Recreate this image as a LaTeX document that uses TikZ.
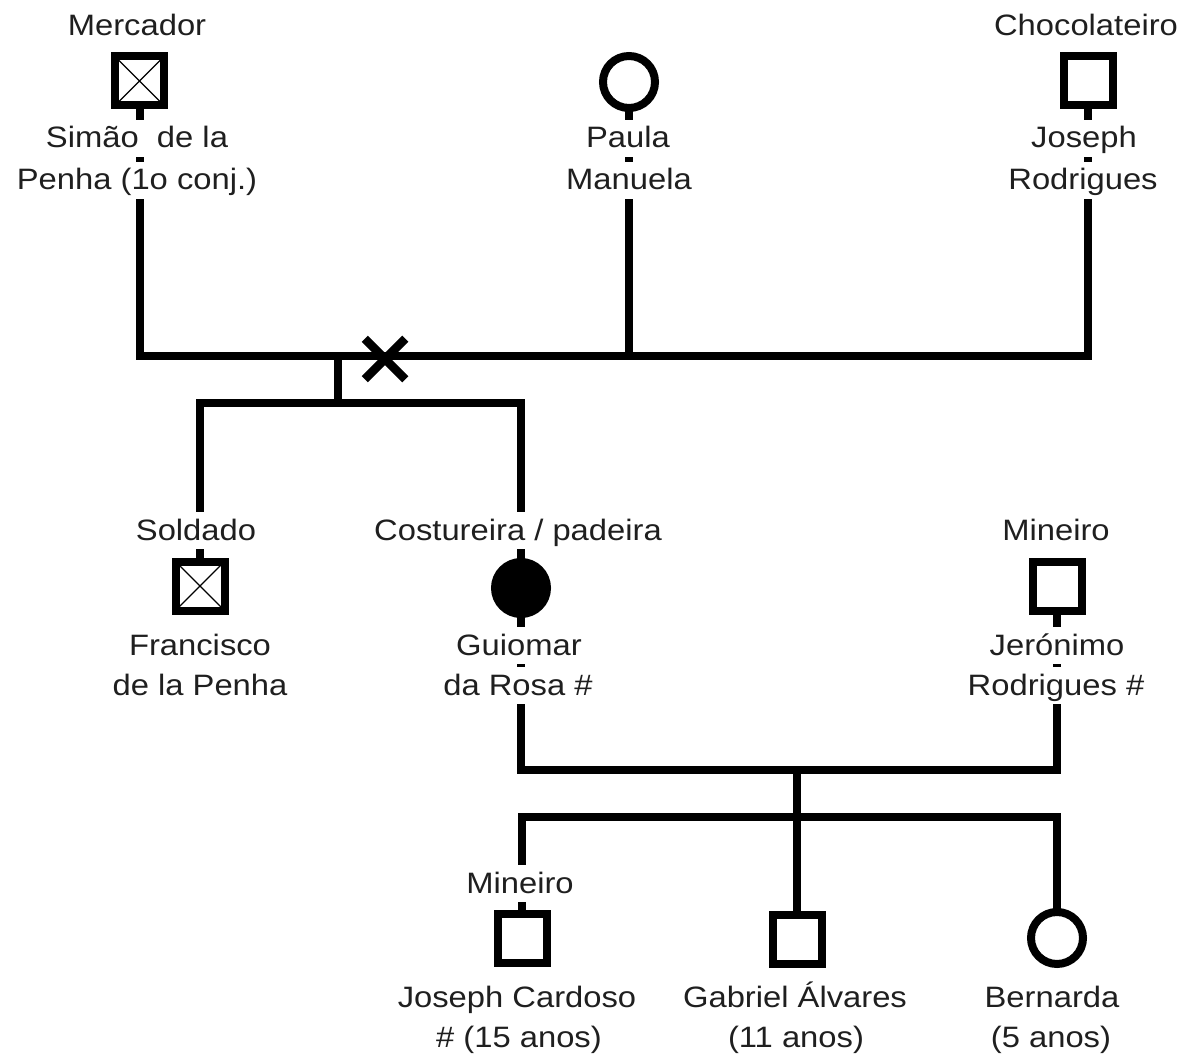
\documentclass[tikz,border=0pt]{standalone}
\usepackage{fontspec}
\setmainfont[FakeStretch=1.11]{Liberation Sans}
\usetikzlibrary{shapes.misc,backgrounds}

\tikzset{
  ink/.style={draw=black, line width=8pt},
  male/.style={ink, fill=white, rectangle, minimum size=49pt, inner sep=0pt},
  female/.style={ink, fill=white, circle, minimum size=52pt, inner sep=0pt},
  deceased/.style={path picture={
      \draw[line width=1.1pt] (path picture bounding box.north west) -- (path picture bounding box.south east)
                              (path picture bounding box.north east) -- (path picture bounding box.south west);}},
  affected/.style={fill=black},
  txt/.style={fill=white, inner sep=0pt, anchor=base, text height=28pt, text depth=9pt,
              text=black!88, font=\fontsize{29.5}{36}\selectfont},
  link/.style={line width=8pt, line join=miter},
  divorce/.style={cross out, draw=black, line width=8.5pt, minimum size=32pt, inner sep=0pt}
}

\begin{document}
\begin{tikzpicture}[x=1pt, y=-1pt]
  % first generation
  \node[male, deceased] (simao) at (139.5,81) {};
  \node[female] (paula) at (629,82) {};
  \node[male] (joseph) at (1088,81) {};
  \node[txt] (mercador) at (137,36) {Mercador};
  \node[txt] (simaoA) at (137,148) {Simão\ \ de la};
  \node[txt] (simaoB) at (137,190) {Penha (1o conj.)};
  \node[txt] (paulaA) at (628,148) {Paula};
  \node[txt] (paulaB) at (629,190) {Manuela};
  \node[txt] (chocolateiro) at (1086,36) {Chocolateiro};
  \node[txt] (josephA) at (1084,148) {Joseph};
  \node[txt] (josephB) at (1083,190) {Rodrigues};

  % union lines
  \coordinate (m1) at (338,356);
  \coordinate (c1) at (338,403);
  \node[divorce] (sep) at (385,359) {};

  % second generation
  \node[male, deceased] (francisco) at (200,586) {};
  \node[female, affected] (guiomar) at (521,588) {};
  \node[male] (jeronimo) at (1057,586) {};
  \node[txt] (soldado) at (196,540) {Soldado};
  \node[txt] (franciscoA) at (200,655) {Francisco};
  \node[txt] (franciscoB) at (200,695) {de la Penha};
  \node[txt] (costureira) at (518,540) {Costureira / padeira};
  \node[txt] (guiomarA) at (519,655) {Guiomar};
  \node[txt] (guiomarB) at (518,695) {da Rosa \#};
  \node[txt] (mineiroA) at (1056,540) {Mineiro};
  \node[txt] (jeronimoA) at (1057,655) {Jerónimo};
  \node[txt] (jeronimoB) at (1056,695) {Rodrigues \#};

  \coordinate (m2) at (797,770);
  \coordinate (c2) at (797,817);

  % third generation
  \node[male] (cardoso) at (522,938) {};
  \node[male] (gabriel) at (797,939) {};
  \node[female] (bernarda) at (1057,938) {};
  \node[txt] (mineiroB) at (520,893) {Mineiro};
  \node[txt] (cardosoA) at (517,1007) {Joseph Cardoso};
  \node[txt] (cardosoB) at (519,1047) {\# (15 anos)};
  \node[txt] (gabrielA) at (795,1007) {Gabriel Álvares};
  \node[txt] (gabrielB) at (796,1047) {(11 anos)};
  \node[txt] (bernardaA) at (1052,1007) {Bernarda};
  \node[txt] (bernardaB) at (1051,1047) {(5 anos)};

  \begin{scope}[on background layer]
    \fill[white] (0,0) rectangle (1184,1059);
    % marriage and descent lines
    \draw[link] (simao.center) |- (m1) -| (joseph.center);
    \draw[link] (paula.center) -- (paula.center |- m1);
    \draw[link] (m1) -- (c1);
    \draw[link] (francisco.center) |- (c1) -| (guiomar.center);
    \draw[link] (guiomar.center) |- (m2) -| (jeronimo.center);
    \draw[link] (m2) -- (c2);
    \draw[link] (cardoso.center) |- (c2) -| (bernarda.center);
    \draw[link] (c2) -- (gabriel.center);
  \end{scope}
\end{tikzpicture}
\end{document}
